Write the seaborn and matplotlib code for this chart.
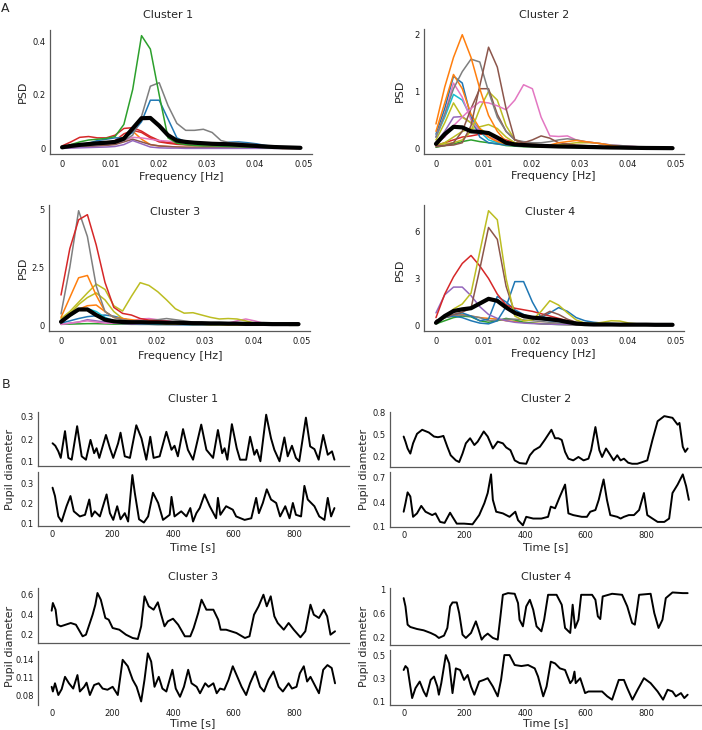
import numpy as np
import pandas as pd
import seaborn as sns
from matplotlib import pyplot as plt

# ---- panel A: power spectra, frequency bins in Hz
freq = np.arange(28) * 0.00183

c1_green = [0.005,0.015,0.025,0.032,0.035,0.038,0.045,0.09,0.22,0.42,0.37,0.2,0.04,0.02,0.015,0.012,0.01,0.01,0.009,0.008,0.007,0.006,0.005,0.004,0.003,0.003,0.002,0.002]
c1_gray = [0.005,0.008,0.01,0.012,0.015,0.018,0.022,0.03,0.05,0.12,0.232,0.245,0.16,0.094,0.068,0.068,0.072,0.06,0.03,0.022,0.02,0.018,0.015,0.01,0.007,0.005,0.004,0.003]
c1_blue = [0.005,0.01,0.015,0.02,0.03,0.035,0.04,0.04,0.06,0.1,0.18,0.18,0.11,0.04,0.025,0.022,0.02,0.02,0.02,0.024,0.025,0.022,0.018,0.012,0.008,0.005,0.004,0.003]
c1_red = [0.01,0.025,0.042,0.045,0.04,0.04,0.05,0.075,0.078,0.065,0.045,0.03,0.022,0.02,0.02,0.02,0.02,0.018,0.015,0.013,0.012,0.01,0.008,0.006,0.005,0.004,0.003,0.002]
c1_red2 = [0.004,0.008,0.012,0.015,0.018,0.02,0.03,0.055,0.068,0.06,0.04,0.025,0.02,0.016,0.014,0.012,0.01,0.009,0.008,0.007,0.006,0.005,0.004,0.003,0.003,0.002,0.002,0.002]
c1_orange = [0.003,0.005,0.008,0.01,0.012,0.015,0.02,0.045,0.065,0.035,0.015,0.01,0.008,0.006,0.005,0.005,0.004,0.004,0.003,0.003,0.003,0.002,0.002,0.002,0.002,0.001,0.001,0.001]
c1_pink = [0.003,0.005,0.008,0.01,0.012,0.015,0.02,0.03,0.042,0.04,0.035,0.03,0.028,0.025,0.02,0.018,0.015,0.012,0.01,0.008,0.007,0.006,0.005,0.004,0.003,0.003,0.002,0.002]
c1_brown = [0.002,0.004,0.006,0.008,0.01,0.012,0.015,0.025,0.035,0.025,0.015,0.01,0.008,0.006,0.005,0.005,0.004,0.004,0.003,0.003,0.003,0.002,0.002,0.002,0.002,0.001,0.001,0.001]
c1_purple = [0.001,0.002,0.003,0.004,0.005,0.006,0.008,0.015,0.03,0.018,0.006,0.003,0.002,0.002,0.001,0.001,0.001,0.001,0.001,0.001,0.001,0.001,0.001,0.001,0.001,0.001,0.001,0.001]
c1_mean = [0.005,0.01,0.014,0.017,0.02,0.022,0.025,0.037,0.075,0.113,0.114,0.085,0.05,0.03,0.025,0.022,0.02,0.018,0.017,0.016,0.014,0.012,0.01,0.008,0.006,0.005,0.004,0.003]

c2_orange = [0.43,1.08,1.6,2.0,1.6,1.05,0.58,0.3,0.12,0.08,0.06,0.05,0.05,0.06,0.1,0.12,0.14,0.12,0.1,0.08,0.05,0.03,0.02,0.015,0.01,0.008,0.006,0.005]
c2_orange2 = [0.3,0.8,1.3,1.05,0.6,0.35,0.2,0.12,0.08,0.06,0.05,0.04,0.03,0.03,0.03,0.03,0.03,0.02,0.02,0.02,0.015,0.01,0.008,0.006,0.005,0.004,0.003,0.003]
c2_gray = [0.2,0.6,1.05,1.35,1.57,1.52,1.0,0.55,0.3,0.15,0.12,0.1,0.1,0.12,0.15,0.17,0.15,0.12,0.1,0.08,0.06,0.05,0.04,0.03,0.02,0.015,0.01,0.008]
c2_brown = [0.05,0.05,0.06,0.1,0.4,1.1,1.78,1.43,0.7,0.15,0.1,0.15,0.22,0.18,0.1,0.08,0.06,0.05,0.04,0.03,0.03,0.02,0.02,0.015,0.01,0.01,0.008,0.006]
c2_brown2 = [0.03,0.05,0.1,0.3,0.7,1.05,1.05,0.6,0.3,0.15,0.1,0.08,0.06,0.05,0.05,0.04,0.04,0.03,0.03,0.02,0.02,0.02,0.015,0.01,0.01,0.008,0.006,0.005]
c2_pink = [0.1,0.2,0.4,0.55,0.7,0.82,0.8,0.75,0.68,0.85,1.12,1.05,0.55,0.22,0.21,0.22,0.15,0.12,0.1,0.08,0.06,0.05,0.04,0.03,0.02,0.015,0.01,0.008]
c2_pink2 = [0.2,0.6,1.15,0.9,0.5,0.3,0.2,0.15,0.1,0.08,0.06,0.05,0.04,0.04,0.03,0.03,0.03,0.02,0.02,0.02,0.015,0.01,0.01,0.008,0.006,0.005,0.004,0.003]
c2_blue = [0.25,0.7,1.27,1.15,0.55,0.2,0.1,0.08,0.06,0.05,0.04,0.04,0.04,0.03,0.03,0.03,0.02,0.02,0.02,0.015,0.01,0.01,0.008,0.006,0.005,0.004,0.003,0.003]
c2_cyan = [0.2,0.55,0.95,0.85,0.55,0.3,0.15,0.1,0.08,0.06,0.05,0.04,0.04,0.03,0.03,0.03,0.02,0.02,0.02,0.015,0.01,0.01,0.008,0.006,0.005,0.004,0.003,0.003]
c2_olive = [0.15,0.45,0.8,0.55,0.45,0.35,0.25,0.15,0.1,0.08,0.06,0.05,0.05,0.04,0.04,0.04,0.03,0.03,0.03,0.02,0.02,0.015,0.01,0.01,0.008,0.006,0.005,0.004]
c2_olive2 = [0.05,0.08,0.1,0.15,0.3,0.7,1.0,0.85,0.4,0.15,0.1,0.08,0.06,0.05,0.06,0.08,0.1,0.1,0.1,0.08,0.05,0.03,0.02,0.015,0.01,0.008,0.006,0.005]
c2_olive3 = [0.05,0.1,0.2,0.3,0.35,0.38,0.42,0.35,0.2,0.1,0.06,0.05,0.04,0.04,0.03,0.03,0.03,0.02,0.02,0.02,0.015,0.01,0.01,0.008,0.006,0.005,0.004,0.003]
c2_purple = [0.1,0.3,0.55,0.56,0.45,0.3,0.2,0.12,0.08,0.06,0.05,0.04,0.04,0.03,0.03,0.03,0.02,0.02,0.02,0.015,0.01,0.01,0.008,0.006,0.005,0.004,0.003,0.003]
c2_red = [0.05,0.1,0.15,0.2,0.22,0.25,0.25,0.2,0.15,0.1,0.08,0.06,0.05,0.05,0.04,0.04,0.03,0.03,0.03,0.02,0.02,0.015,0.01,0.01,0.008,0.006,0.005,0.004]
c2_green = [0.02,0.05,0.08,0.12,0.15,0.12,0.1,0.08,0.05,0.04,0.03,0.03,0.02,0.02,0.02,0.02,0.015,0.01,0.01,0.01,0.008,0.006,0.005,0.004,0.003,0.003,0.002,0.002]
c2_mean = [0.08,0.25,0.38,0.37,0.3,0.29,0.27,0.19,0.1,0.07,0.06,0.05,0.045,0.04,0.035,0.032,0.03,0.027,0.024,0.02,0.017,0.015,0.012,0.01,0.008,0.007,0.006,0.005]

c3_red = [1.31,3.3,4.54,4.76,3.46,1.85,0.78,0.52,0.45,0.3,0.23,0.2,0.18,0.15,0.13,0.12,0.1,0.09,0.08,0.07,0.06,0.05,0.05,0.04,0.04,0.03,0.03,0.03]
c3_gray = [0.5,2.5,4.93,3.82,1.7,0.6,0.35,0.25,0.2,0.2,0.22,0.25,0.3,0.25,0.2,0.15,0.12,0.1,0.08,0.07,0.06,0.05,0.04,0.04,0.03,0.03,0.02,0.02]
c3_orange = [0.35,1.2,2.05,2.15,1.3,0.6,0.35,0.3,0.25,0.2,0.18,0.15,0.12,0.12,0.1,0.1,0.08,0.07,0.06,0.05,0.05,0.04,0.04,0.03,0.03,0.03,0.02,0.02]
c3_orange2 = [0.2,0.45,0.7,0.85,0.88,0.6,0.35,0.25,0.2,0.15,0.12,0.1,0.08,0.07,0.06,0.05,0.05,0.04,0.04,0.03,0.03,0.03,0.02,0.02,0.02,0.02,0.01,0.01]
c3_olive = [0.3,0.6,1.0,1.4,1.78,1.55,0.85,0.62,1.25,1.84,1.72,1.45,1.1,0.72,0.53,0.55,0.45,0.35,0.28,0.3,0.28,0.2,0.1,0.06,0.05,0.04,0.04,0.04]
c3_olive2 = [0.2,0.5,0.9,1.2,1.4,1.1,0.6,0.3,0.2,0.15,0.12,0.1,0.08,0.07,0.06,0.05,0.05,0.04,0.04,0.03,0.03,0.03,0.02,0.02,0.02,0.02,0.01,0.01]
c3_pink = [0.05,0.1,0.15,0.2,0.15,0.1,0.1,0.12,0.2,0.28,0.3,0.25,0.2,0.15,0.1,0.08,0.06,0.05,0.06,0.1,0.2,0.28,0.2,0.1,0.05,0.04,0.03,0.03]
c3_cyan = [0.15,0.4,0.65,0.73,0.6,0.35,0.2,0.12,0.1,0.08,0.07,0.06,0.05,0.05,0.04,0.04,0.04,0.03,0.03,0.03,0.03,0.02,0.02,0.02,0.02,0.02,0.01,0.01]
c3_blue = [0.1,0.2,0.3,0.38,0.42,0.45,0.4,0.3,0.2,0.15,0.12,0.1,0.08,0.07,0.06,0.05,0.05,0.04,0.04,0.03,0.03,0.03,0.02,0.02,0.02,0.02,0.01,0.01]
c3_purple = [0.05,0.1,0.15,0.25,0.2,0.15,0.1,0.08,0.06,0.05,0.05,0.04,0.04,0.03,0.03,0.03,0.02,0.02,0.02,0.02,0.02,0.01,0.01,0.01,0.01,0.01,0.01,0.01]
c3_green = [0.05,0.06,0.07,0.08,0.08,0.07,0.06,0.06,0.05,0.05,0.05,0.04,0.04,0.04,0.04,0.03,0.03,0.03,0.03,0.03,0.03,0.03,0.02,0.02,0.02,0.02,0.02,0.02]
c3_mean = [0.16,0.45,0.69,0.69,0.45,0.25,0.18,0.15,0.14,0.14,0.13,0.13,0.12,0.12,0.11,0.1,0.1,0.09,0.09,0.08,0.08,0.07,0.07,0.07,0.06,0.06,0.06,0.06]

c4_olive = [0.2,0.5,1.05,1.37,2.06,4.7,7.33,6.75,3.0,0.6,0.3,0.35,0.9,1.58,1.3,0.8,0.35,0.15,0.12,0.2,0.3,0.28,0.15,0.1,0.08,0.06,0.05,0.04]
c4_brown = [0.3,0.5,0.7,0.85,1.1,3.6,6.26,5.5,2.5,0.8,0.5,0.5,0.6,0.9,0.7,0.4,0.2,0.15,0.1,0.1,0.08,0.07,0.06,0.05,0.05,0.04,0.04,0.03]
c4_red = [0.5,2.0,3.1,3.96,4.47,3.8,3.0,2.0,1.3,1.1,1.0,0.9,0.75,0.6,0.45,0.3,0.15,0.1,0.08,0.07,0.06,0.06,0.06,0.05,0.05,0.04,0.04,0.03]
c4_purple = [0.8,1.96,2.45,2.45,1.9,1.2,0.7,0.45,0.3,0.2,0.15,0.12,0.1,0.08,0.06,0.05,0.04,0.03,0.03,0.02,0.02,0.02,0.02,0.02,0.01,0.01,0.01,0.01]
c4_blue = [0.3,0.5,0.6,0.5,0.3,0.15,0.1,0.3,1.2,2.8,2.8,1.5,0.5,0.8,1.14,0.9,0.5,0.3,0.2,0.15,0.12,0.1,0.08,0.06,0.05,0.04,0.03,0.03]
c4_blue2 = [0.2,0.5,0.7,0.8,0.6,0.3,0.4,1.85,1.5,1.0,0.7,0.5,0.4,0.3,0.25,0.2,0.15,0.12,0.1,0.08,0.06,0.05,0.04,0.03,0.03,0.02,0.02,0.02]
c4_gray = [0.3,0.5,0.7,0.65,0.6,0.5,0.3,0.35,0.4,0.4,0.35,0.3,0.25,0.2,0.15,0.12,0.1,0.08,0.06,0.05,0.04,0.04,0.03,0.03,0.02,0.02,0.02,0.02]
c4_green = [0.1,0.3,0.5,0.6,0.55,0.3,0.2,0.3,0.45,0.35,0.2,0.15,0.1,0.08,0.06,0.05,0.04,0.03,0.03,0.02,0.02,0.02,0.02,0.01,0.01,0.01,0.01,0.01]
c4_orange = [0.3,0.5,0.6,0.7,0.6,0.5,0.45,0.4,0.3,0.25,0.2,0.15,0.12,0.1,0.08,0.06,0.05,0.04,0.03,0.03,0.02,0.02,0.02,0.02,0.01,0.01,0.01,0.01]
c4_mean = [0.17,0.6,0.92,1.03,1.1,1.4,1.7,1.57,1.15,0.8,0.6,0.5,0.45,0.4,0.33,0.22,0.12,0.08,0.06,0.06,0.06,0.05,0.05,0.05,0.05,0.04,0.04,0.04]

# ---- panel B: pupil traces (time in s, diameter)
c1b_top_t = [3,12,22,30,44,55,66,84,99,113,128,140,148,157,179,192,203,219,227,241,258,279,296,312,325,336,356,378,395,405,416,433,449,466,493,510,532,548,562,570,579,594,610,621,641,654,668,676,688,707,723,734,751,767,778,792,805,816,838,852,866,880,895,910,924,932]
c1b_top_v = [0.183,0.172,0.147,0.118,0.237,0.118,0.110,0.259,0.125,0.110,0.198,0.139,0.161,0.118,0.220,0.161,0.118,0.183,0.230,0.125,0.118,0.263,0.205,0.110,0.212,0.118,0.125,0.234,0.154,0.172,0.125,0.246,0.154,0.110,0.266,0.154,0.118,0.242,0.139,0.161,0.110,0.268,0.161,0.110,0.110,0.212,0.132,0.154,0.103,0.310,0.205,0.154,0.103,0.209,0.125,0.172,0.118,0.103,0.297,0.169,0.157,0.110,0.220,0.132,0.147,0.110]
c1b_bot_t = [3,11,22,33,49,62,73,93,110,124,132,142,159,181,192,203,216,227,241,252,266,274,288,304,318,334,351,367,389,395,405,427,444,457,466,477,488,504,521,542,548,556,575,597,608,636,658,674,683,696,709,723,740,753,770,784,795,805,822,833,844,866,882,899,910,921,932]
c1b_bot_v = [0.278,0.237,0.137,0.112,0.187,0.237,0.162,0.137,0.145,0.220,0.137,0.162,0.137,0.245,0.153,0.120,0.187,0.123,0.153,0.112,0.340,0.253,0.123,0.107,0.137,0.253,0.203,0.120,0.145,0.233,0.137,0.162,0.137,0.178,0.112,0.153,0.178,0.245,0.187,0.128,0.228,0.145,0.187,0.170,0.137,0.120,0.128,0.228,0.153,0.203,0.270,0.220,0.203,0.137,0.187,0.128,0.203,0.145,0.137,0.287,0.220,0.187,0.137,0.120,0.228,0.137,0.178]

c2b_top_t = [0,6,13,22,31,44,61,83,100,113,124,131,144,155,172,183,194,205,219,233,244,264,277,294,310,327,338,352,366,382,404,416,430,449,465,487,499,510,521,532,543,559,576,593,609,618,632,645,654,667,678,692,704,715,726,740,753,770,787,803,820,837,859,886,903,909,920,928,936]
c2b_top_v = [0.477,0.408,0.315,0.246,0.385,0.514,0.569,0.532,0.477,0.468,0.477,0.486,0.338,0.223,0.154,0.131,0.246,0.385,0.454,0.362,0.408,0.546,0.477,0.315,0.408,0.385,0.329,0.292,0.154,0.117,0.108,0.223,0.292,0.338,0.431,0.569,0.454,0.454,0.431,0.269,0.177,0.154,0.200,0.154,0.177,0.292,0.606,0.292,0.200,0.315,0.246,0.154,0.223,0.154,0.177,0.122,0.108,0.108,0.131,0.154,0.431,0.685,0.754,0.731,0.638,0.662,0.338,0.269,0.315]
c2b_bot_t = [0,6,13,22,31,44,58,72,94,105,120,135,153,161,175,199,227,249,266,277,288,294,305,327,349,368,377,393,404,427,454,476,485,499,515,532,543,559,587,604,615,632,643,659,670,681,704,715,726,742,759,776,792,803,820,837,859,875,886,903,920,931,940]
c2b_bot_v = [0.286,0.390,0.522,0.472,0.224,0.266,0.357,0.286,0.245,0.266,0.162,0.150,0.274,0.224,0.141,0.141,0.133,0.245,0.390,0.514,0.741,0.431,0.286,0.266,0.224,0.286,0.183,0.121,0.224,0.203,0.203,0.224,0.348,0.328,0.472,0.617,0.266,0.245,0.224,0.224,0.286,0.307,0.431,0.679,0.431,0.245,0.224,0.203,0.224,0.245,0.245,0.307,0.514,0.245,0.203,0.162,0.162,0.203,0.514,0.617,0.741,0.597,0.431]

c3b_top_t = [0,4,13,19,30,46,63,80,102,113,124,135,144,151,162,177,188,201,223,245,267,284,295,306,320,336,350,361,372,383,400,417,439,457,468,483,494,510,533,549,557,575,609,637,652,667,682,698,709,722,734,745,765,781,798,820,836,853,864,881,897,908,919,934]
c3b_top_v = [0.433,0.510,0.443,0.293,0.277,0.293,0.310,0.293,0.177,0.193,0.293,0.393,0.493,0.610,0.543,0.360,0.343,0.260,0.243,0.193,0.160,0.150,0.277,0.577,0.477,0.443,0.517,0.393,0.277,0.327,0.353,0.293,0.177,0.177,0.260,0.410,0.543,0.443,0.443,0.343,0.243,0.243,0.210,0.160,0.177,0.393,0.477,0.593,0.477,0.577,0.377,0.310,0.243,0.310,0.243,0.167,0.227,0.493,0.393,0.360,0.443,0.377,0.193,0.227]
c3b_bot_t = [0,4,11,22,33,44,57,71,85,93,107,115,126,140,155,168,184,201,218,234,251,267,280,295,306,317,328,339,353,365,378,398,409,423,436,450,461,478,489,506,517,533,544,555,569,583,597,612,626,641,654,671,687,700,715,731,748,762,781,792,807,818,831,842,853,870,881,895,909,923,934]
c3b_bot_v = [0.094,0.086,0.100,0.080,0.090,0.111,0.100,0.091,0.114,0.086,0.094,0.101,0.080,0.097,0.100,0.091,0.089,0.094,0.080,0.140,0.129,0.106,0.094,0.069,0.106,0.151,0.137,0.094,0.111,0.091,0.086,0.123,0.091,0.077,0.094,0.123,0.100,0.094,0.083,0.100,0.094,0.100,0.083,0.091,0.089,0.106,0.129,0.111,0.094,0.080,0.100,0.120,0.094,0.086,0.106,0.120,0.094,0.086,0.100,0.091,0.094,0.117,0.129,0.103,0.111,0.094,0.083,0.123,0.131,0.126,0.100]

c4b_top_t = [0,6,13,22,44,66,89,105,116,133,144,153,161,175,183,194,205,222,238,247,257,266,277,294,310,319,327,344,366,377,382,393,404,416,427,438,454,463,476,504,521,532,549,557,565,576,585,621,632,640,648,656,687,720,737,753,762,776,814,826,840,853,864,886,920,936]
c4b_top_v = [0.862,0.724,0.421,0.382,0.349,0.327,0.283,0.244,0.200,0.239,0.366,0.724,0.790,0.790,0.614,0.255,0.200,0.283,0.476,0.338,0.172,0.228,0.272,0.200,0.172,0.559,0.917,0.945,0.934,0.779,0.503,0.393,0.724,0.834,0.669,0.393,0.310,0.503,0.917,0.917,0.752,0.366,0.283,0.752,0.366,0.503,0.917,0.917,0.834,0.559,0.514,0.890,0.934,0.917,0.724,0.448,0.421,0.917,0.934,0.614,0.366,0.503,0.862,0.956,0.945,0.945]
c4b_bot_t = [0,6,13,22,28,39,53,66,75,89,100,111,116,124,139,150,161,172,186,199,211,222,233,249,264,277,294,310,321,332,349,366,388,410,432,443,460,471,485,499,515,532,549,557,563,567,582,598,609,632,654,671,687,709,726,737,754,771,792,814,837,855,870,886,897,914,925,936]
c4b_bot_v = [0.377,0.411,0.391,0.234,0.134,0.220,0.277,0.191,0.149,0.291,0.320,0.234,0.163,0.263,0.506,0.434,0.177,0.391,0.377,0.291,0.334,0.234,0.163,0.277,0.291,0.306,0.234,0.149,0.291,0.506,0.506,0.420,0.411,0.420,0.391,0.320,0.149,0.234,0.449,0.434,0.391,0.377,0.263,0.291,0.363,0.263,0.306,0.177,0.191,0.191,0.191,0.149,0.120,0.291,0.291,0.220,0.120,0.206,0.306,0.263,0.191,0.120,0.206,0.191,0.149,0.177,0.134,0.163]

sns.set_style('white')
plt.rcParams['font.family'] = ['DejaVu Sans']
BLUE, ORANGE, GREEN, RED, PURPLE, BROWN, PINK, GRAY, OLIVE, CYAN = sns.color_palette('tab10')

W, H = 702, 730
fig = plt.figure(figsize=(W / 100, H / 100), dpi=100)


def px_rect(x0, x1, ytop, ybot):
    # pixel box -> figure fraction
    return [x0 / W, 1 - ybot / H, (x1 - x0) / W, (ybot - ytop) / H]


def label(x, y, s, size=8, rot=0):
    fig.text(x / W, 1 - y / H, s, ha='center', va='center', fontsize=size, rotation=rot)


def style_ax(ax):
    sns.despine(ax=ax)
    for sp in ax.spines.values():
        sp.set_color('0.35')
        sp.set_linewidth(0.9)
    ax.tick_params(length=0, labelsize=6, pad=3, colors='0.1')


def psd_panel(rect, lines, mean, yticks, yticklabels):
    ax = fig.add_axes(rect)
    for vals, col in lines:
        sns.lineplot(x=freq, y=vals, color=col, lw=1.1, ax=ax)
    sns.lineplot(x=freq, y=mean, color='black', lw=3, ax=ax)
    ax.set_xticks([0, 0.01, 0.02, 0.03, 0.04, 0.05])
    ax.set_xticklabels(['0', '0.01', '0.02', '0.03', '0.04', '0.05'])
    ax.set_yticks(yticks)
    ax.set_yticklabels(yticklabels)
    ax.set_xlim(-0.0025, 0.0518)
    ax.set_xlabel('')
    ax.set_ylabel('')
    style_ax(ax)
    ax.tick_params(axis='x', pad=4)
    return ax


def trace_pair(rect_top, rect_bot, top, bot, ylim_top, ylim_bot, yt_top, yt_bot, bottom_spine=True):
    a1 = fig.add_axes(rect_top)
    sns.lineplot(x=top[0], y=top[1], color='black', lw=1.4, ax=a1)
    a1.set_xlim(-45, 980)
    a1.set_ylim(*ylim_top)
    a1.set_yticks(yt_top[0])
    a1.set_yticklabels(yt_top[1])
    a1.set_xticks([])
    a1.set_xlabel('')
    style_ax(a1)

    a2 = fig.add_axes(rect_bot)
    sns.lineplot(x=bot[0], y=bot[1], color='black', lw=1.4, ax=a2)
    a2.set_xlim(-45, 980)
    a2.set_ylim(*ylim_bot)
    a2.set_yticks(yt_bot[0])
    a2.set_yticklabels(yt_bot[1])
    a2.set_xticks([0, 200, 400, 600, 800])
    a2.set_xlabel('')
    style_ax(a2)
    if not bottom_spine:
        a2.spines['bottom'].set_visible(False)


# ---- panel A
psd_panel(px_rect(50, 312, 30, 154),
          [(c1_red, RED), (c1_red2, RED), (c1_orange, ORANGE), (c1_pink, PINK), (c1_brown, BROWN),
           (c1_purple, PURPLE), (c1_blue, BLUE), (c1_gray, GRAY), (c1_green, GREEN)],
          c1_mean, [0, 0.2, 0.4], ['0', '0.2', '0.4'])
psd_panel(px_rect(424, 684, 29, 154),
          [(c2_green, GREEN), (c2_red, RED), (c2_purple, PURPLE), (c2_olive3, OLIVE), (c2_olive, OLIVE),
           (c2_cyan, CYAN), (c2_blue, BLUE), (c2_pink2, PINK), (c2_orange2, ORANGE), (c2_olive2, OLIVE),
           (c2_brown2, BROWN), (c2_pink, PINK), (c2_gray, GRAY), (c2_brown, BROWN), (c2_orange, ORANGE)],
          c2_mean, [0, 1, 2], ['0', '1', '2'])
psd_panel(px_rect(49, 310, 205, 331),
          [(c3_green, GREEN), (c3_purple, PURPLE), (c3_blue, BLUE), (c3_cyan, CYAN), (c3_pink, PINK),
           (c3_orange2, ORANGE), (c3_olive2, OLIVE), (c3_olive, OLIVE), (c3_orange, ORANGE),
           (c3_gray, GRAY), (c3_red, RED)],
          c3_mean, [0, 2.5, 5], ['0', '2.5', '5'])
psd_panel(px_rect(424, 684, 205, 331),
          [(c4_orange, ORANGE), (c4_green, GREEN), (c4_gray, GRAY), (c4_blue2, BLUE), (c4_purple, PURPLE),
           (c4_blue, BLUE), (c4_red, RED), (c4_brown, BROWN), (c4_olive, OLIVE)],
          c4_mean, [0, 3, 6], ['0', '3', '6'])

# ---- panel B
trace_pair(px_rect(38, 349, 412, 466), px_rect(38, 349, 472, 526),
           (c1b_top_t, c1b_top_v), (c1b_bot_t, c1b_bot_v),
           (0.082, 0.322), (0.09, 0.355),
           ([0.1, 0.2, 0.3], ['0.1', '0.2', '0.3']), ([0.1, 0.2, 0.3], ['0.1', '0.2', '0.3']))
trace_pair(px_rect(390, 701, 412, 467), px_rect(390, 701, 472, 527),
           (c2b_top_t, c2b_top_v), (c2b_bot_t, c2b_bot_v),
           (0.064, 0.81), (0.1, 0.77),
           ([0.2, 0.5, 0.8], ['0.2', '0.5', '0.8']), ([0.1, 0.4, 0.7], ['0.1', '0.4', '0.7']))
trace_pair(px_rect(38, 349, 588, 643), px_rect(38, 349, 651, 705),
           (c3b_top_t, c3b_top_v), (c3b_bot_t, c3b_bot_v),
           (0.11, 0.66), (0.063, 0.155),
           ([0.2, 0.4, 0.6], ['0.2', '0.4', '0.6']), ([0.08, 0.11, 0.14], ['0.08', '0.11', '0.14']),
           bottom_spine=False)
trace_pair(px_rect(390, 701, 588, 645), px_rect(390, 701, 650, 705),
           (c4b_top_t, c4b_top_v), (c4b_bot_t, c4b_bot_v),
           (0.083, 1.03), (0.074, 0.55),
           ([0.2, 0.6, 1.0], ['0.2', '0.6', '1']), ([0.1, 0.3, 0.5], ['0.1', '0.3', '0.5']))

# ---- texts
label(5, 8, 'A', size=9)
label(6, 385, 'B', size=9)
for x, y, s in [(168, 15, 'Cluster 1'), (544, 15, 'Cluster 2'), (175, 212, 'Cluster 3'), (550, 212, 'Cluster 4'),
                (193, 399, 'Cluster 1'), (546, 399, 'Cluster 2'), (193, 577, 'Cluster 3'), (546, 577, 'Cluster 4')]:
    label(x, y, s)
for x, y in [(23, 92), (400, 91), (23, 268), (400, 270)]:
    label(x, y, 'PSD', rot=90)
for x, y in [(181, 177), (553, 176), (180, 356), (553, 354)]:
    label(x, y, 'Frequency [Hz]')
for x, y in [(10, 469), (364, 469), (10, 646), (364, 646)]:
    label(x, y, 'Pupil diameter', rot=90)
for x, y in [(193, 547), (546, 547), (193, 723), (546, 723)]:
    label(x, y, 'Time [s]')

fig.savefig('out.png', dpi=100)
